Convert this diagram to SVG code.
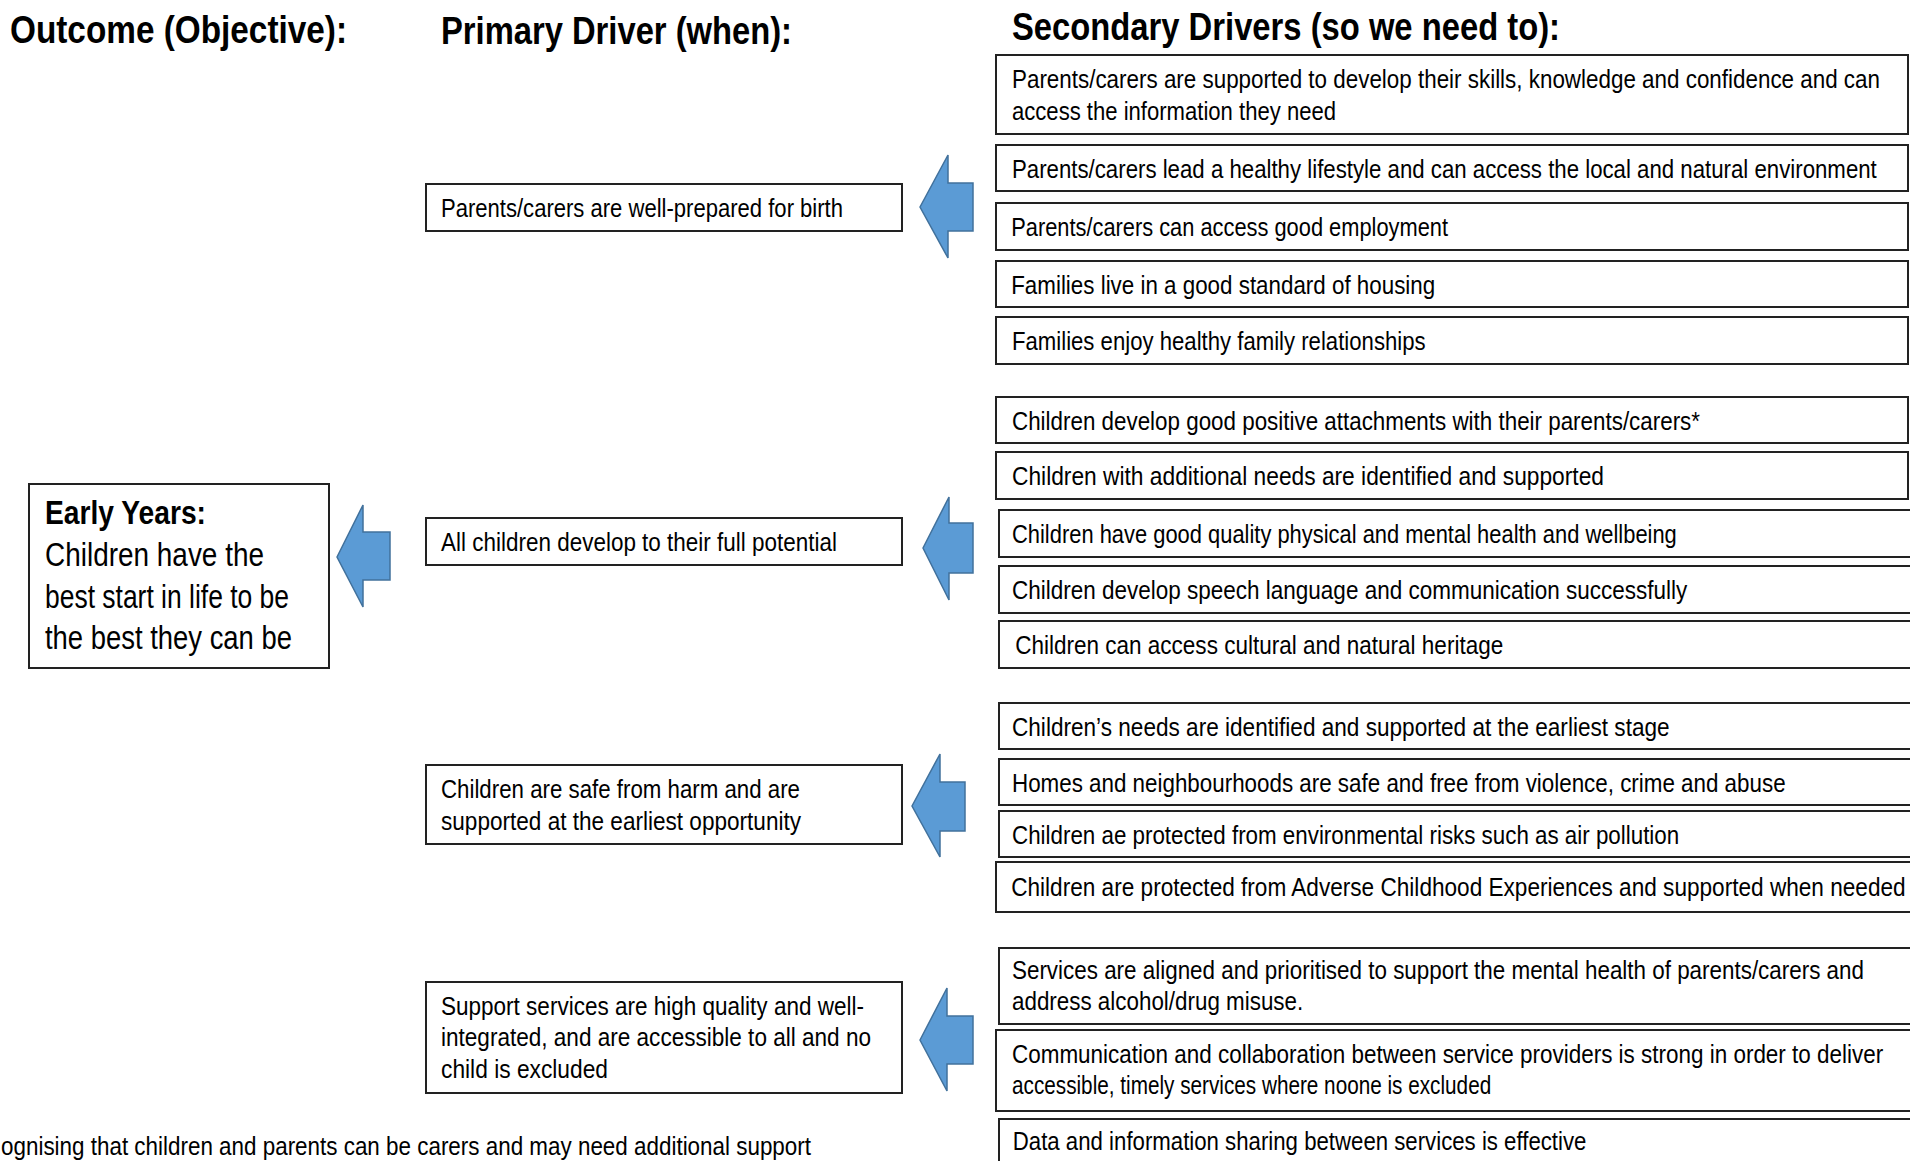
<svg xmlns="http://www.w3.org/2000/svg" width="1910" height="1161" viewBox="0 0 1910 1161">
<style>
text{font-family:"Liberation Sans",Arial,sans-serif;fill:#000}
.h{font-size:38px;font-weight:bold}
.t{font-size:25px}
.o{font-size:33px}
.box{fill:#fff;stroke:#222;stroke-width:2}
.arr{fill:#5B9BD5;stroke:#41719C;stroke-width:1.5}
</style>
<rect width="1910" height="1161" fill="#fff"/>
<g id="headers">
<text class="h" x="10" y="43" textLength="337" lengthAdjust="spacingAndGlyphs">Outcome (Objective):</text>
<text class="h" x="441" y="44" textLength="351" lengthAdjust="spacingAndGlyphs">Primary Driver (when):</text>
<text class="h" x="1012" y="40" textLength="548" lengthAdjust="spacingAndGlyphs">Secondary Drivers (so we need to):</text>
</g>
<g id="outcome">
<rect class="box" x="29" y="484" width="300" height="184"/>
<text class="o" x="45" y="524" font-weight="bold" textLength="161" lengthAdjust="spacingAndGlyphs">Early Years:</text>
<text class="o" x="45" y="566" textLength="219" lengthAdjust="spacingAndGlyphs">Children have the</text>
<text class="o" x="45" y="608" textLength="244" lengthAdjust="spacingAndGlyphs">best start in life to be</text>
<text class="o" x="45" y="649" textLength="247" lengthAdjust="spacingAndGlyphs">the best they can be</text>
</g>
<g id="primary1">
<rect class="box" x="426" y="184" width="476" height="47"/>
<text class="t" x="441" y="217" textLength="402" lengthAdjust="spacingAndGlyphs">Parents/carers are well-prepared for birth</text>
</g>
<g id="primary2">
<rect class="box" x="426" y="518" width="476" height="47"/>
<text class="t" x="441" y="551" textLength="396" lengthAdjust="spacingAndGlyphs">All children develop to their full potential</text>
</g>
<g id="primary3">
<rect class="box" x="426" y="765" width="476" height="79"/>
<text class="t" x="441" y="798" textLength="359" lengthAdjust="spacingAndGlyphs">Children are safe from harm and are</text>
<text class="t" x="441" y="830" textLength="360" lengthAdjust="spacingAndGlyphs">supported at the earliest opportunity</text>
</g>
<g id="primary4">
<rect class="box" x="426" y="982" width="476" height="111"/>
<text class="t" x="441" y="1015" textLength="423" lengthAdjust="spacingAndGlyphs">Support services are high quality and well-</text>
<text class="t" x="441" y="1046" textLength="430" lengthAdjust="spacingAndGlyphs">integrated, and are accessible to all and no</text>
<text class="t" x="441" y="1078" textLength="167" lengthAdjust="spacingAndGlyphs">child is excluded</text>
</g>
<g id="s1">
<rect class="box" x="996" y="55" width="912" height="79"/>
<text class="t" transform="scale(0.8,1)" x="1265" y="88" textLength="1085" lengthAdjust="spacingAndGlyphs">Parents/carers are supported to develop their skills, knowledge and confidence and can</text>
<text class="t" transform="scale(0.8,1)" x="1265" y="120" textLength="405" lengthAdjust="spacingAndGlyphs">access the information they need</text>
</g>
<g id="s2">
<rect class="box" x="996" y="145" width="912" height="46"/>
<text class="t" transform="scale(0.8,1)" x="1265" y="178" textLength="1081" lengthAdjust="spacingAndGlyphs">Parents/carers lead a healthy lifestyle and can access the local and natural environment</text>
</g>
<g id="s3">
<rect class="box" x="996" y="203" width="912" height="47"/>
<text class="t" transform="scale(0.8,1)" x="1264" y="236" textLength="546" lengthAdjust="spacingAndGlyphs">Parents/carers can access good employment</text>
</g>
<g id="s4">
<rect class="box" x="996" y="261" width="912" height="46"/>
<text class="t" transform="scale(0.8,1)" x="1264" y="294" textLength="530" lengthAdjust="spacingAndGlyphs">Families live in a good standard of housing</text>
</g>
<g id="s5">
<rect class="box" x="996" y="317" width="912" height="47"/>
<text class="t" transform="scale(0.8,1)" x="1265" y="350" textLength="517" lengthAdjust="spacingAndGlyphs">Families enjoy healthy family relationships</text>
</g>
<g id="s6">
<rect class="box" x="996" y="397" width="912" height="46"/>
<text class="t" transform="scale(0.8,1)" x="1265" y="430" textLength="860" lengthAdjust="spacingAndGlyphs">Children develop good positive attachments with their parents/carers*</text>
</g>
<g id="s7">
<rect class="box" x="996" y="452" width="912" height="47"/>
<text class="t" transform="scale(0.8,1)" x="1265" y="485" textLength="740" lengthAdjust="spacingAndGlyphs">Children with additional needs are identified and supported</text>
</g>
<g id="s8">
<rect class="box" x="999" y="510" width="912" height="47"/>
<text class="t" transform="scale(0.8,1)" x="1265" y="543" textLength="831" lengthAdjust="spacingAndGlyphs">Children have good quality physical and mental health and wellbeing</text>
</g>
<g id="s9">
<rect class="box" x="999" y="566" width="912" height="47"/>
<text class="t" transform="scale(0.8,1)" x="1265" y="599" textLength="844" lengthAdjust="spacingAndGlyphs">Children develop speech language and communication successfully</text>
</g>
<g id="s10">
<rect class="box" x="999" y="621" width="912" height="47"/>
<text class="t" transform="scale(0.8,1)" x="1269" y="654" textLength="610" lengthAdjust="spacingAndGlyphs">Children can access cultural and natural heritage</text>
</g>
<g id="s11">
<rect class="box" x="999" y="703" width="912" height="46"/>
<text class="t" transform="scale(0.8,1)" x="1265" y="736" textLength="822" lengthAdjust="spacingAndGlyphs">Children’s needs are identified and supported at the earliest stage</text>
</g>
<g id="s12">
<rect class="box" x="999" y="759" width="912" height="46"/>
<text class="t" transform="scale(0.8,1)" x="1265" y="792" textLength="967" lengthAdjust="spacingAndGlyphs">Homes and neighbourhoods are safe and free from violence, crime and abuse</text>
</g>
<g id="s13">
<rect class="box" x="999" y="811" width="912" height="46"/>
<text class="t" transform="scale(0.8,1)" x="1265" y="844" textLength="834" lengthAdjust="spacingAndGlyphs">Children ae protected from environmental risks such as air pollution</text>
</g>
<g id="s14">
<rect class="box" x="996" y="862" width="915" height="50"/>
<text class="t" transform="scale(0.8,1)" x="1264" y="896" textLength="1118" lengthAdjust="spacingAndGlyphs">Children are protected from Adverse Childhood Experiences and supported when needed</text>
</g>
<g id="s15">
<rect class="box" x="999" y="948" width="912" height="76"/>
<text class="t" transform="scale(0.8,1)" x="1265" y="979" textLength="1065" lengthAdjust="spacingAndGlyphs">Services are aligned and prioritised to support the mental health of parents/carers and</text>
<text class="t" transform="scale(0.8,1)" x="1265" y="1010" textLength="364" lengthAdjust="spacingAndGlyphs">address alcohol/drug misuse.</text>
</g>
<g id="s16">
<rect class="box" x="996" y="1030" width="915" height="81"/>
<text class="t" transform="scale(0.8,1)" x="1265" y="1063" textLength="1089" lengthAdjust="spacingAndGlyphs">Communication and collaboration between service providers is strong in order to deliver</text>
<text class="t" transform="scale(0.8,1)" x="1265" y="1094" textLength="599" lengthAdjust="spacingAndGlyphs">accessible, timely services where noone is excluded</text>
</g>
<g id="s17">
<rect class="box" x="999" y="1119" width="912" height="60"/>
<text class="t" transform="scale(0.8,1)" x="1266" y="1150" textLength="717" lengthAdjust="spacingAndGlyphs">Data and information sharing between services is effective</text>
</g>
<g id="footnote">
<text class="t" x="1" y="1155" textLength="810" lengthAdjust="spacingAndGlyphs">ognising that children and parents can be carers and may need additional support</text>
</g>
<g id="connectors">
<polygon class="arr" points="337,557 363,505 363,532 390,532 390,580 363,580 363,607"/>
<polygon class="arr" points="920,207 948,155 948,183 973,183 973,231 948,231 948,258"/>
<polygon class="arr" points="923,548 949,497 949,523 973,523 973,573 949,573 949,600"/>
<polygon class="arr" points="912,806 940,754 940,782 965,782 965,831 940,831 940,857"/>
<polygon class="arr" points="920,1040 947,988 947,1016 973,1016 973,1064 947,1064 947,1091"/>
</g>
</svg>
